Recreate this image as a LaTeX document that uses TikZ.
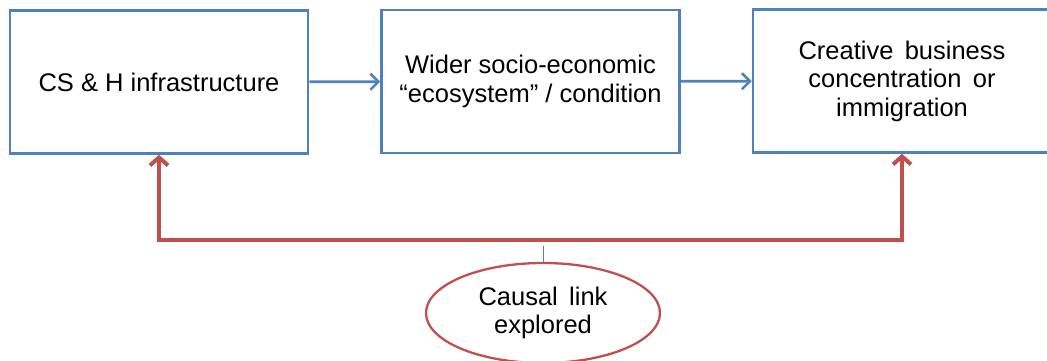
\documentclass[tikz,border=0pt]{standalone}
\usepackage{fontspec}
\setmainfont{Liberation Sans}
\usetikzlibrary{
  shapes.geometric,
  arrows.meta,
  positioning
}
\definecolor{boxblue}{HTML}{4F81BD}
\definecolor{linkred}{HTML}{C0504D}
\tikzset{%
  x=1pt, y=-1pt,
  every node/.style={font=\fontsize{25.5}{28.5}\selectfont, align=center},
  stage/.style={draw=boxblue, line width=2.5pt, minimum width=298pt, minimum height=143pt, inner sep=0pt}, % the three boxes
  flow/.style={draw=boxblue, line width=2.6pt, -{Straight Barb[length=8pt,width=16pt]}},
  feedback/.style={draw=linkred, line width=4pt, {Straight Barb[length=8pt,width=18pt]}-{Straight Barb[length=8pt,width=18pt]}},
  explore/.style={ellipse, draw=linkred, line width=2.3pt, minimum width=234pt, minimum height=100pt, inner sep=0pt}
}

\begin{document}
\begin{tikzpicture}
    \useasboundingbox (0,0) rectangle (1047,361);
    \clip (0,0) rectangle (1047,361);
    \node[stage] (csh) at (159,82) {CS \& H infrastructure};
    \node[stage] (eco) at (530.5,81.5) {Wider socio-economic\\``ecosystem'' / condition};
    \node[stage] (creative) at (902,81) {Creative\, business\\concentration\, or\\immigration};
    \node[explore] (causal) at (543,313) {Causal\, link\\explored};
    \coordinate (join) at (543,240);
    \draw[flow] (csh) -- (eco);
    \draw[flow] (eco) -- (creative);
    \draw[feedback] (csh.south) |- (join) -| (creative.south);
    \draw[draw=boxblue, line width=1pt] (causal.north) -- ++(0,-16);
  \end{tikzpicture}
\end{document}
